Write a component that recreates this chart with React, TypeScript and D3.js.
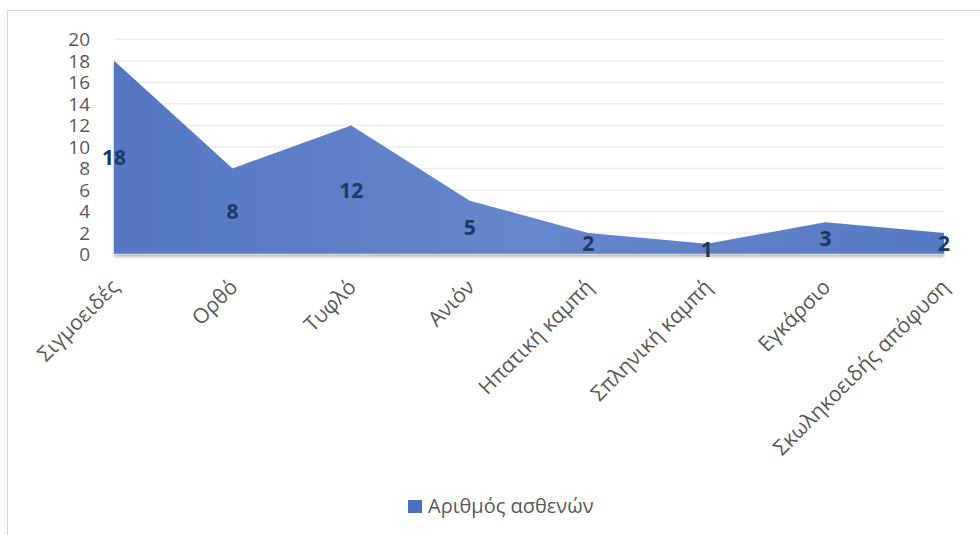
import React from "react";
import * as d3 from "d3";

const categories: string[] = [
  "Σιγμοειδές",
  "Ορθό",
  "Τυφλό",
  "Ανιόν",
  "Ηπατική καμπή",
  "Σπληνική καμπή",
  "Εγκάρσιο",
  "Σκωληκοειδής απόφυση",
];
const values: number[] = [18, 8, 12, 5, 2, 1, 3, 2];
const yTicks: number[] = [0, 2, 4, 6, 8, 10, 12, 14, 16, 18, 20];
const seriesName = "Αριθμός ασθενών";

const W = 980;
const H = 535;
const plotLeft = 114;
const plotRight = 944;
const plotTop = 39.3;
const plotBottom = 254.5;

export default function App() {
  const x = d3
    .scalePoint<string>()
    .domain(categories)
    .range([plotLeft, plotRight]);
  const y = d3.scaleLinear().domain([0, 20]).range([plotBottom, plotTop]);

  const data = categories.map((c, i) => ({ c, v: values[i] }));
  const area = d3
    .area<{ c: string; v: number }>()
    .x((d) => x(d.c) as number)
    .y0(y(0))
    .y1((d) => y(d.v));

  const font = "'Open Sans', 'Noto Sans', sans-serif";

  return (
    <svg
      width={W}
      height={H}
      style={{ position: "absolute", left: 0, top: 0, background: "#fff" }}
    >
      <defs>
        <linearGradient id="areaGrad" x1="0" y1="0" x2="1" y2="0">
          <stop offset="0%" stopColor="#5577c2" />
          <stop offset="50%" stopColor="#6587cc" />
          <stop offset="100%" stopColor="#5779c3" />
        </linearGradient>
        <filter id="shadow" x="-5%" y="-5%" width="110%" height="115%">
          <feGaussianBlur in="SourceAlpha" stdDeviation="1.5" />
          <feOffset dx="0" dy="1.5" result="b" />
          <feComponentTransfer>
            <feFuncA type="linear" slope="0.35" />
          </feComponentTransfer>
          <feMerge>
            <feMergeNode />
            <feMergeNode in="SourceGraphic" />
          </feMerge>
        </filter>
      </defs>
      <rect
        x={7.5}
        y={10.5}
        width={W + 10}
        height={H + 10}
        fill="none"
        stroke="#d9d9d9"
        strokeWidth={1}
      />
      {yTicks
        .filter((t) => t > 0)
        .map((t) => (
          <line
            key={t}
            x1={plotLeft}
            x2={plotRight}
            y1={y(t)}
            y2={y(t)}
            stroke="#ececec"
            strokeWidth={1.2}
          />
        ))}
      <path d={area(data) || ""} fill="url(#areaGrad)" filter="url(#shadow)" />
      <line
        x1={plotLeft}
        x2={plotRight}
        y1={y(0)}
        y2={y(0)}
        stroke="#d9d9d9"
        strokeWidth={1.5}
      />
      {yTicks.map((t) => (
        <text
          key={t}
          x={90}
          y={y(t)}
          dy="0.36em"
          textAnchor="end"
          fontFamily={font}
          fontSize={19}
          fill="#595959"
        >
          {t}
        </text>
      ))}
      {data.map((d) => (
        <text
          key={d.c}
          x={x(d.c) as number}
          y={y(d.v / 2)}
          dy="0.36em"
          textAnchor="middle"
          fontFamily={font}
          fontWeight="bold"
          fontSize={21}
          fill="#203864"
        >
          {d.v}
        </text>
      ))}
      {categories.map((c) => (
        <text
          key={c}
          transform={`translate(${(x(c) as number) + 1},${283}) rotate(-45)`}
          dy="0.36em"
          textAnchor="end"
          fontFamily={font}
          fontSize={21}
          fill="#595959"
        >
          {c}
        </text>
      ))}
      <rect x={408} y={500} width={14} height={13} fill="#4a6fbf" />
      <text
        x={428}
        y={513}
        fontFamily={font}
        fontSize={20}
        fill="#595959"
      >
        {seriesName}
      </text>
    </svg>
  );
}
